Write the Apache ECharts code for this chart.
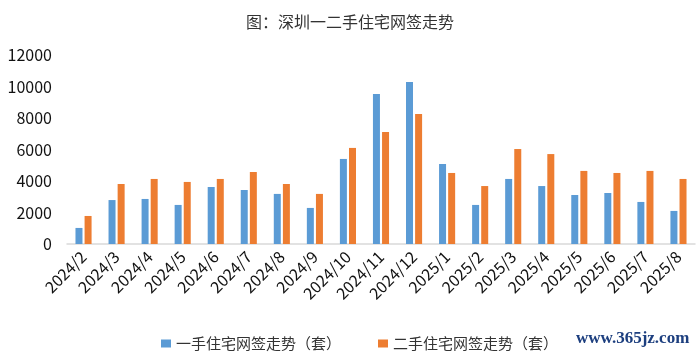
<!DOCTYPE html>
<html>
<head>
<meta charset="utf-8">
<script src="https://cdn.jsdelivr.net/npm/echarts@6/dist/echarts.min.js"></script>
<style>
html,body{margin:0;padding:0;background:#fff;}
#main{width:698px;height:356px;}
</style>
</head>
<body>
<div id="main"></div>
<script>
const categories = ['2024/2','2024/3','2024/4','2024/5','2024/6','2024/7','2024/8','2024/9','2024/10','2024/11','2024/12','2025/1','2025/2','2025/3','2025/4','2025/5','2025/6','2025/7','2025/8'];
const newHomeSales = [1020, 2790, 2860, 2480, 3620, 3430, 3180, 2290, 5400, 9520, 10290, 5080, 2480, 4130, 3680, 3110, 3240, 2670, 2100];
const resaleSales = [1780, 3810, 4130, 3940, 4130, 4570, 3810, 3180, 6100, 7110, 8250, 4510, 3680, 6030, 5710, 4640, 4510, 4640, 4130];
const yTicks = [0, 2000, 4000, 6000, 8000, 10000, 12000];
const seriesNames = ['一手住宅网签走势（套）', '二手住宅网签走势（套）'];
const titleText = '图：深圳一二手住宅网签走势';
const watermark = 'www.365jz.com';

const font = '"Noto Sans CJK SC", "Microsoft YaHei", sans-serif';
const chart = echarts.init(document.getElementById('main'), null, {renderer: 'canvas'});
chart.setOption({
  animation: false,
  backgroundColor: '#fff',
  title: {
    text: titleText,
    left: 241, top: 9,
    textStyle: {fontFamily: font, fontSize: 16, fontWeight: 'normal', color: '#333'}
  },
  legend: {
    left: 156, top: 331,
    itemWidth: 10, itemHeight: 8, itemGap: 37,
    icon: 'rect',
    textStyle: {fontFamily: font, fontSize: 15, color: '#333'},
    data: seriesNames
  },
  graphic: [{
    type: 'text', left: 576, top: 330,
    style: {text: watermark, font: 'bold 17px "Liberation Serif", serif', fill: '#1d3f7f'}
  }],
  grid: {left: 67, right: 3, top: 55, bottom: 112, containLabel: false},
  xAxis: {
    type: 'category', data: categories,
    axisLine: {lineStyle: {color: '#d9d9d9', width: 1.5}},
    axisTick: {show: false},
    axisLabel: {rotate: 45, interval: 0, margin: 10, fontFamily: font, fontSize: 16, color: '#111'}
  },
  yAxis: {
    type: 'value', min: yTicks[0], max: yTicks[yTicks.length-1], interval: 2000,
    axisLine: {show: false}, axisTick: {show: false},
    splitLine: {show: false},
    axisLabel: {margin: 15, fontFamily: font, fontSize: 16, color: '#111', formatter: v => String(v)}
  },
  series: [
    {name: seriesNames[0], type: 'bar', data: newHomeSales, barWidth: 7, barGap: '30%', itemStyle: {color: '#5b9bd5'}},
    {name: seriesNames[1], type: 'bar', data: resaleSales, barWidth: 7, itemStyle: {color: '#ed7d31'}}
  ]
});
</script>
</body>
</html>
